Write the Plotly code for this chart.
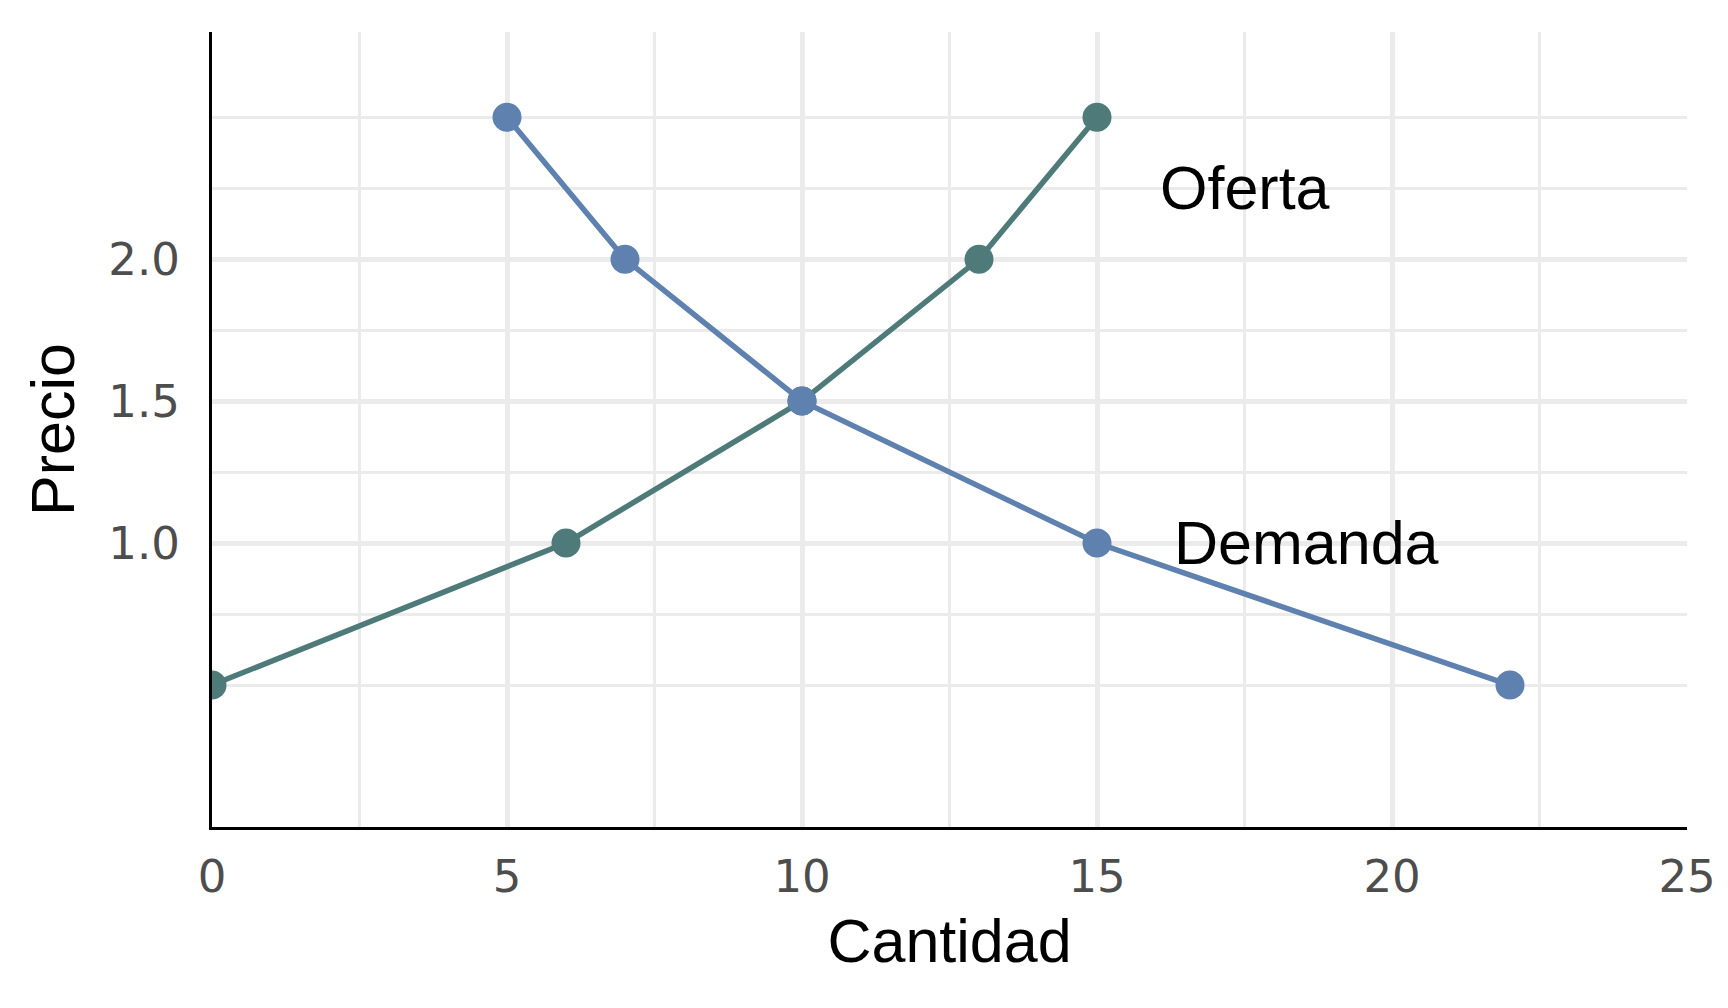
import plotly.graph_objects as go

# Data
oferta_x = [0, 6, 10, 13, 15]
oferta_y = [0.5, 1.0, 1.5, 2.0, 2.5]
demanda_x = [5, 7, 10, 15, 22]
demanda_y = [2.5, 2.0, 1.5, 1.0, 0.5]
label_names = ["Oferta", "Demanda"]
label_x = [17.5, 18.55]
label_y = [2.25, 1.0]
x_ticks = [0, 5, 10, 15, 20, 25]
x_minor = [2.5, 7.5, 12.5, 17.5, 22.5]
y_ticks = [1.0, 1.5, 2.0]
y_tick_text = ["1.0", "1.5", "2.0"]
y_minor = [0.5, 0.75, 1.25, 1.75, 2.25, 2.5]

col_oferta = "#4E7B79"
col_demanda = "#5E81AF"
grid_col = "#EBEBEB"
font_main = "Liberation Sans, Arial, sans-serif"
font_tick = "DejaVu Sans, Liberation Sans, sans-serif"

fig = go.Figure()
fig.add_trace(go.Scatter(x=oferta_x, y=oferta_y, mode="lines+markers",
                         line=dict(color=col_oferta, width=5.5),
                         marker=dict(color=col_oferta, size=29),
                         name="Oferta", showlegend=False))
fig.add_trace(go.Scatter(x=demanda_x, y=demanda_y, mode="lines+markers",
                         line=dict(color=col_demanda, width=5.5),
                         marker=dict(color=col_demanda, size=29),
                         name="Demanda", showlegend=False))

for name, lx, ly in zip(label_names, label_x, label_y):
    fig.add_annotation(x=lx, y=ly, text=name, showarrow=False,
                       xanchor="center", yanchor="middle",
                       font=dict(family=font_main, size=61, color="black"))

fig.update_layout(
    width=1728, height=1008,
    margin=dict(l=212, r=34, t=32, b=181, pad=0),
    paper_bgcolor="white", plot_bgcolor="white",
    font=dict(family=font_main),
)

fig.update_xaxes(
    range=[0, 25], tickvals=x_ticks, ticktext=[str(v) for v in x_ticks],
    showgrid=True, gridcolor=grid_col, gridwidth=5.3,
    minor=dict(tickvals=x_minor, showgrid=True, gridcolor=grid_col, gridwidth=2.7),
    showline=True, linecolor="black", linewidth=3.3,
    zeroline=False, ticks="",
    tickfont=dict(family=font_tick, size=45, color="#4D4D4D"),
    ticklabelstandoff=8,
    title=dict(text="Cantidad", font=dict(family=font_main, size=61, color="black"), standoff=18),
)
fig.update_yaxes(
    range=[0, 2.8], tickvals=y_ticks, ticktext=y_tick_text,
    showgrid=True, gridcolor=grid_col, gridwidth=5.3,
    minor=dict(tickvals=y_minor, showgrid=True, gridcolor=grid_col, gridwidth=2.7),
    showline=True, linecolor="black", linewidth=3.3,
    zeroline=False, ticks="",
    tickfont=dict(family=font_tick, size=45, color="#4D4D4D"),
    ticklabelstandoff=20,
    title=dict(text="Precio", font=dict(family=font_main, size=61, color="black"), standoff=14),
)

fig.write_html("out.html", config={"displayModeBar": False},
               post_script="document.body.style.margin='0';document.body.style.overflow='hidden';")
